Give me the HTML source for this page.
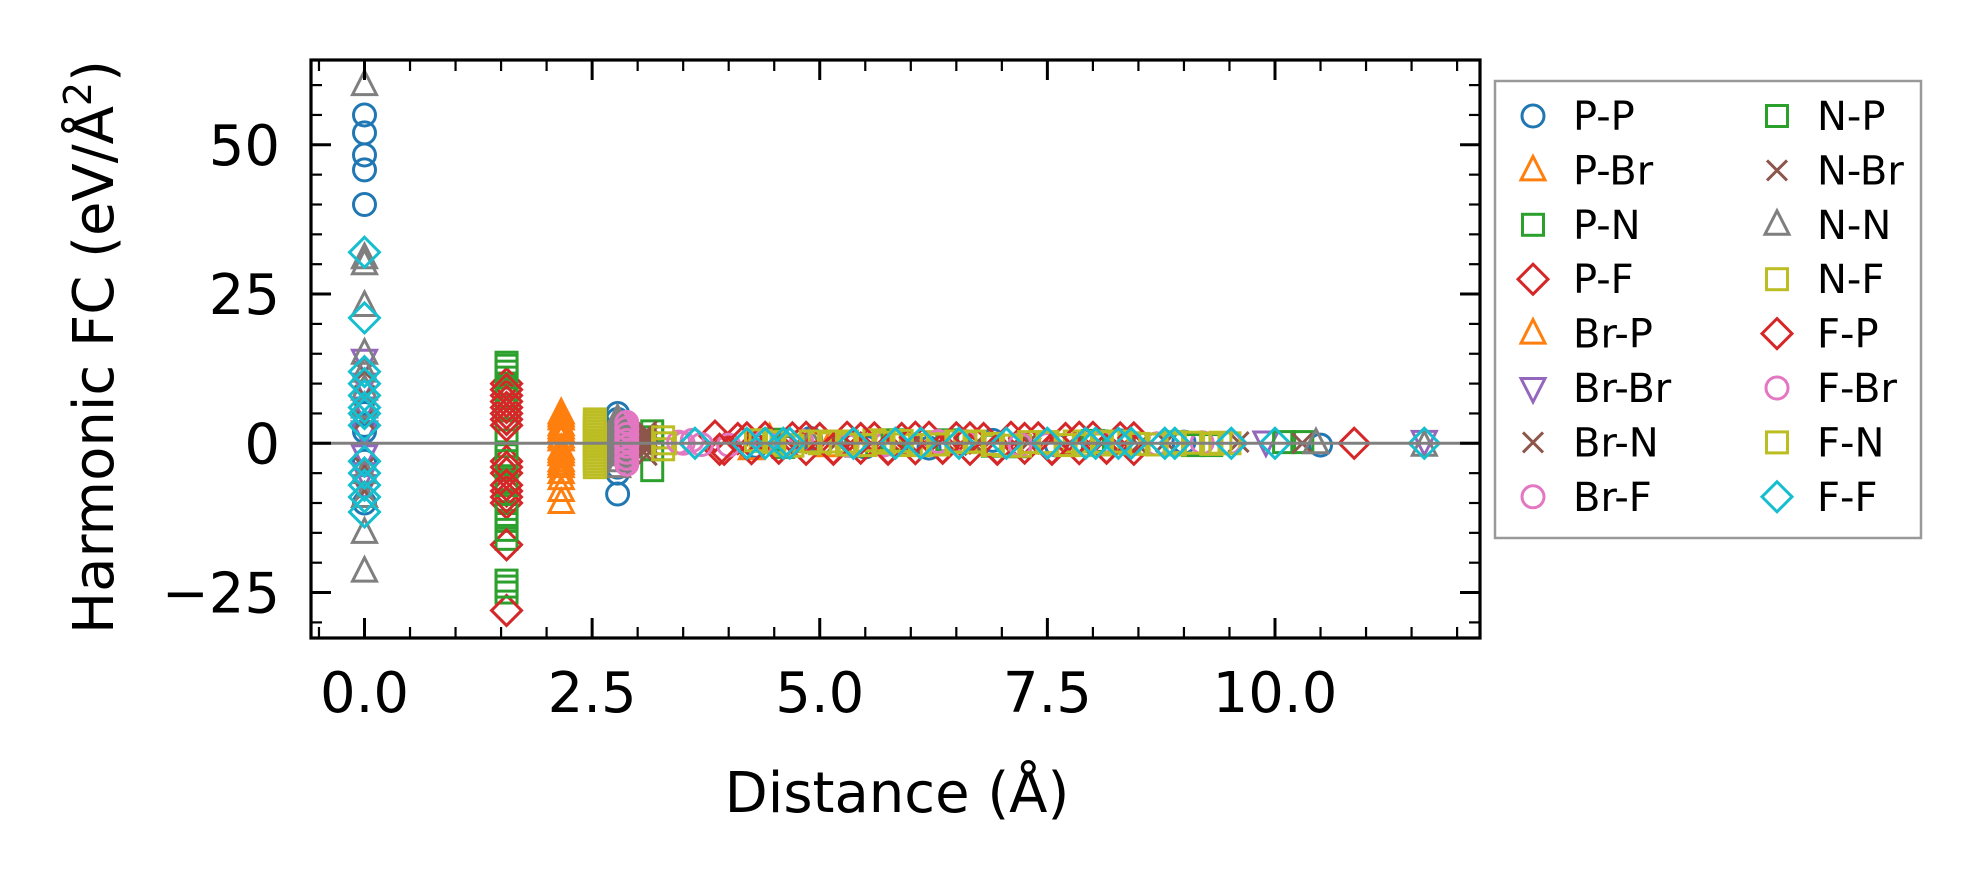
<!DOCTYPE html>
<html><head><meta charset="utf-8"><style>
html,body{margin:0;padding:0;background:#fff;}
svg{display:block;font-family:"DejaVu Sans","Liberation Sans",sans-serif;}
</style></head><body>
<svg id="chart" width="1981" height="883" viewBox="0 0 1981 883" xmlns="http://www.w3.org/2000/svg">
<rect x="0" y="0" width="1981" height="883" fill="#fff"/>
<g id="marks"></g>
<g id="axes"></g>
<g id="legend"></g>
</svg>
<script>
// ---- data ----
const xTicks = [0, 2.5, 5, 7.5, 10];
const xTickLabels = ["0.0", "2.5", "5.0", "7.5", "10.0"];
const yTicks = [-25, 0, 25, 50];
const yTickLabels = ["\u221225", "0", "25", "50"];

const seriesNames = ["P-P","P-Br","P-N","P-F","Br-P","Br-Br","Br-N","Br-F","N-P","N-Br","N-N","N-F","F-P","F-Br","F-N","F-F"];

const ppDist = [0,0,0,0,0,0,0,0,0,0, 2.78,2.78,2.78,2.78,2.78, 4.3,4.9,5.5,6.2,6.9,7.6,8.3,9.0,10.5];
const ppFC   = [55,52,48.3,45.8,40,5,3,2,-3,-10, 5,4,-4,-5,-8.5, -0.5,0.8,-0.6,-0.8,0.5,-0.3,0.4,0.2,-0.3];
const pbrDist = [2.16,2.16,2.16,2.16,2.16,2.16,2.16,2.16,2.16,2.16,2.16,2.16, 4.25,4.45,5.1];
const pbrFC   = [5,4,3,2,1,-1,-2,-3,-4,-6,-8,-10, -1,0.8,-0.5];
const pnDist = [1.56,1.56,1.56,1.56,1.56,1.56,1.56,1.56,1.56,1.56,1.56,1.56,1.56,1.56,1.56,1.56, 3.16,3.16,3.16,3.16, 4.5,5.4,6.4,7.2,8.1,9.3,10.3];
const pnFC   = [13.5,12,10,8,6,4,2,-2,-4,-6,-8,-10,-13,-16,-23,-25, 2,1,-1,-4.5, 0.6,-0.4,0.5,-0.5,0.3,-0.3,0.2];
const pfDist = [1.56,1.56,1.56,1.56,1.56,1.56,1.56,1.56,1.56,1.56,1.56, 3.85,3.95,4.1,4.25,4.4,4.55,4.7,4.85,5.0,5.15,5.3,5.45,5.6,5.75,5.9,6.05,6.2,6.35,6.5,6.65,6.8,6.95,7.1,7.25,7.4,7.55,7.7,7.85,8.0,8.15,8.3,8.45];
const pfFC   = [10,8,6,4,3,-3,-5,-8,-10,-17,-28, 1.2,-1,0.8,-0.9,1,-0.8,0.9,-1,0.8,-0.9,1,-0.8,0.9,-1,0.8,-0.9,1,-0.8,0.9,-1,0.8,-0.9,1,-0.8,0.9,-1,0.8,-0.9,1,-0.8,0.9,-1];
const brpDist = [2.16,2.16,2.16,2.16,2.16,2.16];
const brpFC   = [4.5,2.5,0.5,-1.5,-3.5,-5];
const brbrDist = [0,0,0,0,0,0,0, 9.9,11.64];
const brbrFC   = [14,10,6,2,-2,-5,-7, 0.3,0.4];
const brnDist = [0,0,0,0,0, 3.1,3.1,3.1,3.1,3.1, 4.8,6.0,7.3,8.5,9.6];
const brnFC   = [12,8,4,-4,-8, 2,1,0,-1,-2, 0.5,-0.4,0.3,-0.3,0.2];
const brfDist = [2.88,2.88,2.88,2.88,2.88,2.88,2.88,2.88,2.88,2.88,2.88,2.88,2.88, 3.5,3.6,4.0,4.8,5.7,6.6,7.5,8.4,9.2];
const brfFC   = [3,2.5,2,1.5,1,0.5,0,-0.5,-1,-1.5,-2,-2.5,-3, 0,0.5,-0.3,0.4,-0.3,0.3,-0.2,0.2,0.1];
const npDist = [1.56,1.56,1.56,1.56,1.56,1.56,1.56,1.56, 4.6,5.8,6.9,8.0,9.1,10.1];
const npFC   = [13,11,9,-3,-7,-12,-14.5,-24, -0.6,0.5,-0.4,0.4,-0.3,0.2];
const nbrDist = [3.1,3.1,3.1, 5.2,6.7,8.8,10.3];
const nbrFC   = [1.5,0.5,-0.5, 0.3,-0.3,0.2,0];
const nnDist = [0,0,0,0,0,0,0,0,0,0,0,0, 2.78,2.78,2.78,2.78,2.78,2.78,2.78,2.78,2.78, 4.9,10.45,11.64];
const nnFC   = [60,31,30,23,15,12,9,6,-5,-9,-15,-21.5, 4,3,2,1,0,-1,-2,-3,-4, 0.2,0,-0.4];
const nfDist = [2.53,2.53,2.53,2.53,2.53,2.53,2.53,2.53,2.53,2.53,2.53,2.53,2.53,2.53,2.53,2.53,2.53, 3.28,3.28, 4.35,4.6,5.0,5.3,5.6,5.9,6.0,6.3,6.6,6.9,7.2,7.5,7.8,8.1,8.4,8.9,9.4];
const nfFC   = [4,3.5,3,2.5,2,1.5,1,0.5,0,-0.5,-1,-1.5,-2,-2.5,-3,-3.5,-4, 1,-1, 0.4,-0.3,0,0.3,0.5,-0.2,-0.3,0.2,0.2,-0.3,-0.4,0.1,0.3,-0.2,0,-0.2,0.1];
const fpDist = [1.56,1.56,1.56,1.56,1.56,1.56, 3.9,4.2,4.55,4.85,5.15,5.45,5.75,6.05,6.35,6.65,6.95,7.25,7.55,7.85,8.15,8.45,10.87];
const fpFC   = [9,7,5,-4,-7,-9, -1,0.9,-0.8,1,-1,0.8,-0.9,1,-0.8,0.9,-1,0.8,-0.9,1,-0.8,0.9,0];
const fbrDist = [2.88,2.88,2.88,2.88,2.88,2.88,2.88,2.88, 3.45,3.7,4.4,5.3,6.3,7.2,8.1,8.7,9.5];
const fbrFC   = [3.5,2.5,1.5,0.5,-0.5,-1.5,-2.5,-3.5, 0.2,-0.2,0.3,-0.3,0.3,-0.2,0.2,-0.1,0.1];
const fnDist = [3.3, 4.3,4.5,4.7,4.9,5.1,5.3,5.5,5.7,5.9,6.1,6.3,6.5,6.7,6.9,7.1,7.3,7.5,7.7,7.9,8.1,8.3,8.5,8.7,8.9,9.1,9.3,9.5];
const fnFC   = [0, 0.5,0.2,-0.4,0.3,0.3,-0.2,-0.3,0.1,0.4,-0.3,-0.2,0.3,0.3,-0.1,-0.4,0.2,0.2,-0.3,-0.3,0.2,0.3,-0.1,-0.2,0.2,0.1,-0.1,0];
const ffDist = [0,0,0,0,0,0,0,0,0,0,0,0,0, 3.63,4.2,4.4,4.6,4.67,5.37,5.83,6.11,6.53,7.05,7.5,7.92,8.03,8.28,8.42,8.79,8.9,9.52,10.0,11.64];
const ffFC   = [32,21,12,10,8,6,5,3,-3,-5,-7,-9,-11.5, 0,0,0,0,0,0,0,0,0,0,0,0,0,0,0,0,0,0,0,0];

// ---- layout ----
const L = 311, R = 1480, T = 60, B = 638;
const xS = v => 364.5 + v * 91.05;
const yS = v => 443.3 - v * 5.97;
const NS = "http://www.w3.org/2000/svg";
function mk(tag, attrs, parent) {
  const e = document.createElementNS(NS, tag);
  for (const k in attrs) e.setAttribute(k, attrs[k]);
  parent.appendChild(e);
  return e;
}
const C = {blue:"#1f77b4",orange:"#ff7f0e",green:"#2ca02c",red:"#d62728",purple:"#9467bd",brown:"#8c564b",pink:"#e377c2",gray:"#7f7f7f",olive:"#bcbd22",cyan:"#17becf"};
const styles = [
  ["o",C.blue],["^",C.orange],["s",C.green],["D",C.red],["^",C.orange],["v",C.purple],["x",C.brown],["o",C.pink],
  ["s",C.green],["x",C.brown],["^",C.gray],["s",C.olive],["D",C.red],["o",C.pink],["s",C.olive],["D",C.cyan]
];
const seriesData = [[ppDist,ppFC],[pbrDist,pbrFC],[pnDist,pnFC],[pfDist,pfFC],[brpDist,brpFC],[brbrDist,brbrFC],[brnDist,brnFC],[brfDist,brfFC],
  [npDist,npFC],[nbrDist,nbrFC],[nnDist,nnFC],[nfDist,nfFC],[fpDist,fpFC],[fbrDist,fbrFC],[fnDist,fnFC],[ffDist,ffFC]];

function marker(parent, kind, color, cx, cy) {
  const st = {fill:"none", stroke:color, "stroke-width":3};
  let e;
  if (kind === "o") e = mk("circle", Object.assign({cx:cx, cy:cy, r:11}, st), parent);
  else if (kind === "s") e = mk("rect", Object.assign({x:cx-10.5, y:cy-10.5, width:21, height:21}, st), parent);
  else if (kind === "D") e = mk("polygon", Object.assign({points:`${cx},${cy-15} ${cx+15},${cy} ${cx},${cy+15} ${cx-15},${cy}`}, st), parent);
  else if (kind === "^") e = mk("polygon", Object.assign({points:`${cx},${cy-14} ${cx+12},${cy+9.5} ${cx-12},${cy+9.5}`}, st), parent);
  else if (kind === "v") e = mk("polygon", Object.assign({points:`${cx},${cy+14} ${cx+12},${cy-9.5} ${cx-12},${cy-9.5}`}, st), parent);
  else e = mk("path", Object.assign({d:`M${cx-10},${cy-10}L${cx+10},${cy+10}M${cx-10},${cy+10}L${cx+10},${cy-10}`}, st), parent);
  return e;
}

const marks = document.getElementById("marks");
const cp = mk("clipPath", {id:"clip"}, marks);
mk("rect", {x:L, y:T, width:R-L, height:B-T}, cp);
const mg = mk("g", {"clip-path":"url(#clip)"}, marks);
seriesData.forEach((sd, i) => {
  const g = mk("g", {}, mg);
  
  
  sd[0].forEach((d, j) => {
    const m = marker(g, styles[i][0], styles[i][1], xS(d), yS(sd[1][j]));
    
    
  });
});
const zl = mk("line", {x1:L, x2:R, y1:yS(0), y2:yS(0), stroke:"#808080", "stroke-width":3}, marks);



// ---- axes ----
const ax = document.getElementById("axes");
for (let v = -0.5; v <= 12.01; v += 0.5) {
  const major = Math.abs(v / 2.5 - Math.round(v / 2.5)) < 1e-6;
  const len = major ? 20 : 11, w = major ? 3 : 2.2, x = xS(v);
  const t1 = mk("line", {x1:x, x2:x, y1:B, y2:B-len, stroke:"#000", "stroke-width":w}, ax);
  
  
  const t2 = mk("line", {x1:x, x2:x, y1:T, y2:T+len, stroke:"#000", "stroke-width":w}, ax);
  
  
}
for (let v = -30; v <= 60; v += 5) {
  const major = v % 25 === 0;
  const len = major ? 20 : 11, w = major ? 3 : 2.2, y = yS(v);
  const t1 = mk("line", {x1:L, x2:L+len, y1:y, y2:y, stroke:"#000", "stroke-width":w}, ax);
  
  
  const t2 = mk("line", {x1:R, x2:R-len, y1:y, y2:y, stroke:"#000", "stroke-width":w}, ax);
  
  
}
const frame = mk("rect", {x:L, y:T, width:R-L, height:B-T, fill:"none", stroke:"#000", "stroke-width":3.2}, ax);


xTicks.forEach((v, i) => {
  const t = mk("text", {x:xS(v), y:712, "font-size":56, "text-anchor":"middle", fill:"#000"}, ax);
  t.textContent = xTickLabels[i];
  
  
});
yTicks.forEach((v, i) => {
  const t = mk("text", {x:280, y:yS(v)+20, "font-size":56, "text-anchor":"end", fill:"#000"}, ax);
  t.textContent = yTickLabels[i];
  
  
});
const xt = mk("text", {x:897, y:812, "font-size":56, "text-anchor":"middle", fill:"#000"}, ax);
xt.textContent = "Distance (Å)";


const yt = mk("text", {x:0, y:0, "font-size":56, "text-anchor":"middle", fill:"#000", transform:"translate(113,347) rotate(-90)"}, ax);
yt.appendChild(document.createTextNode("Harmonic FC (eV/Å"));
const sup = mk("tspan", {"font-size":38, dy:-22}, yt);
sup.textContent = "2";
const cl = mk("tspan", {dy:22}, yt);
cl.textContent = ")";



// ---- legend ----
const lg = document.getElementById("legend");
const box = mk("rect", {x:1495, y:81, width:426, height:457, fill:"#fff", stroke:"#999", "stroke-width":2.5}, lg);


seriesNames.forEach((n, i) => {
  const col = Math.floor(i / 8), row = i % 8;
  const cy = 116 + row * 54.4;
  const mx = col ? 1777 : 1533, tx = col ? 1817 : 1573;
  const g = mk("g", {}, lg);
  
  
  marker(g, styles[i][0], styles[i][1], mx, cy);
  const t = mk("text", {x:tx, y:cy+14, "font-size":40, fill:"#000"}, g);
  t.textContent = n;
});
</script>
</body></html>
